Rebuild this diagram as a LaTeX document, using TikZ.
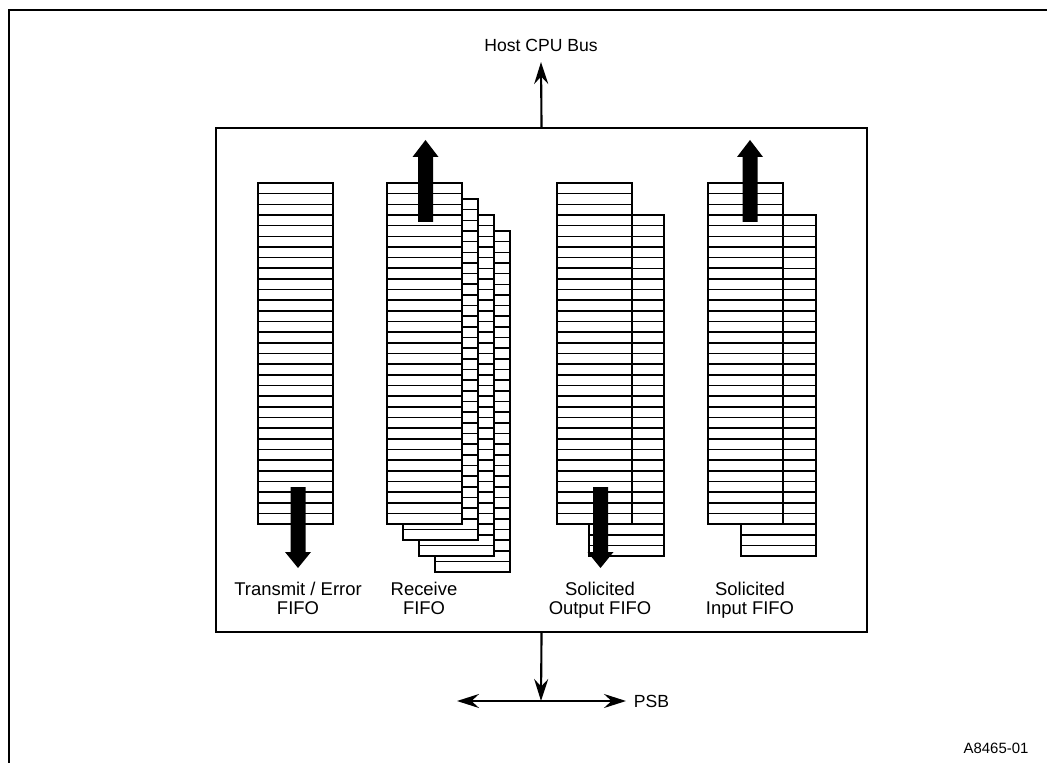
\documentclass[tikz,border=0pt]{standalone}
\usepackage{fontspec}
\setmainfont{Liberation Sans}
\usetikzlibrary{arrows.meta,positioning,calc}
\newcommand{\fifostack}[3]{\draw[fifo] (#1,#2) rectangle ++(75,#3*10.66); \foreach \r in {1,...,\numexpr#3-1\relax} \draw[fifo] (#1,#2+\r*10.66) -- ++(75,0);}
\newcommand{\fatarrow}[4]{\fill (#1-7.5,#2) -- (#1-7.5,#3) -- (#1-13,#3) -- (#1,#4) -- (#1+13,#3) -- (#1+7.5,#3) -- (#1+7.5,#2) -- cycle;}

\begin{document}
\begin{tikzpicture}[x=0.02cm, y=-0.02cm, font=\fontsize{10}{11.5}\selectfont, >={Stealth[length=4.4mm,width=2.8mm,inset=1.5mm]}]
\tikzset{frame/.style={line width=1.25pt}, fifo/.style={draw=black, fill=white, line width=0.9pt}, bus/.style={line width=1.2pt}, caption/.style={align=center, inner sep=1pt, font=\fontsize{10.5}{10.5}\selectfont, execute at begin node=\strut, execute at end node=\strut}}
\useasboundingbox (0,0) rectangle (1047,763);
\draw[frame] (9,763) -- (9,10) -- (1047,10);
\node[draw, frame, anchor=north west, minimum width=13.02cm, minimum height=10.08cm, inner sep=0pt] (chip) at (215,127) {};
\node (host) at (541,45) {Host CPU Bus};
\coordinate (hosttip) at (541,62);
\draw[bus,->] (chip.north) -- (hosttip);
\coordinate (psbjoin) at (541,701); \coordinate (psbleft) at (457,701); \coordinate (psbright) at (626,701);
\draw[bus,->] (chip.south) -- (psbjoin);
\draw[bus,<->] (psbleft) -- (psbright);
\node[right=1pt of psbright] (psb) {PSB};
\fifostack{258}{183}{32}
\foreach \k in {3,2,1,0} {\fifostack{387+\k*16}{183+\k*16}{32}}
\fifostack{589}{215}{32} \fifostack{557}{183}{32}
\fifostack{741}{215}{32} \fifostack{708}{183}{32}
\fatarrow{298}{487}{552}{568} \fatarrow{425.5}{222}{157}{140} \fatarrow{600.5}{487}{552}{568} \fatarrow{750}{222}{157}{140}
\node[caption] (txcap) at (298,601) {Transmit / Error\\FIFO};
\node[caption] (rxcap) at (424,601) {Receive\\FIFO};
\node[caption] (socap) at (600,601) {Solicited\\Output FIFO};
\node[caption] (sicap) at (750,601) {Solicited\\Input FIFO};
\node[font=\fontsize{8.5}{10}\selectfont] (figid) at (996,748) {A8465-01};
\end{tikzpicture}
\end{document}
